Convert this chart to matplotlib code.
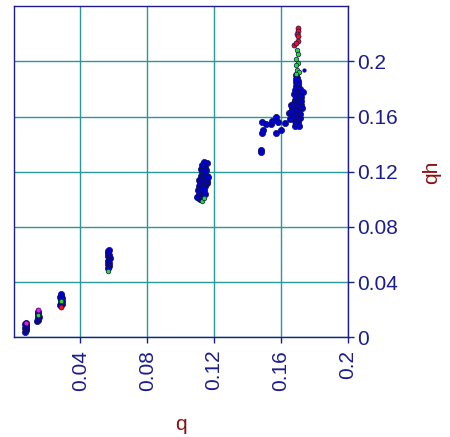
import matplotlib
matplotlib.use("Agg")
import matplotlib.pyplot as plt

plt.rcParams['font.family'] = ['Liberation Sans', 'DejaVu Sans']

# blue points (q, qh)
blue_q = [
    # cluster near 0.007
    0.0071, 0.0075, 0.0073, 0.0070, 0.0076, 0.0072, 0.0074, 0.0071, 0.0075,
    # cluster near 0.0145
    0.0143, 0.0148, 0.0145, 0.0150, 0.0144, 0.0147, 0.0146,
    # cluster near 0.0285
    0.0280, 0.0288, 0.0284, 0.0290, 0.0282, 0.0286, 0.0289, 0.0281, 0.0285, 0.0287,
    # cluster near 0.057
    0.0565, 0.0570, 0.0567, 0.0572, 0.0564, 0.0569, 0.0575, 0.0566, 0.0571, 0.0568, 0.0565, 0.0570,
    # cluster near 0.113
    0.1108, 0.1118, 0.1125, 0.1112, 0.1120, 0.1132, 0.1105, 0.1115, 0.1128, 0.1140,
    0.1110, 0.1122, 0.1135, 0.1148, 0.1118, 0.1130, 0.1142, 0.1155, 0.1112, 0.1125,
    0.1138, 0.1150, 0.1120, 0.1133, 0.1146, 0.1158, 0.1128, 0.1140, 0.1152, 0.1122,
    0.1135, 0.1148, 0.1130, 0.1142, 0.1155, 0.1138, 0.1160, 0.1162, 0.1145, 0.1100,
    # scattered between
    0.1480, 0.1480, 0.1485, 0.1495, 0.1490, 0.1510, 0.1540, 0.1545, 0.1570, 0.1580,
    0.1570, 0.1600, 0.1627, 0.1646, 0.1654,
    # cluster near 0.169
    0.1690, 0.1695, 0.1700, 0.1688, 0.1702, 0.1692, 0.1698, 0.1685, 0.1705, 0.1712,
    0.1695, 0.1680, 0.1700, 0.1715, 0.1690, 0.1708, 0.1682, 0.1720, 0.1695, 0.1710,
    0.1676, 0.1700, 0.1688, 0.1718, 0.1672, 0.1705, 0.1692, 0.1665, 0.1725, 0.1680,
    0.1710, 0.1698, 0.1670, 0.1715, 0.1688, 0.1702, 0.1676, 0.1712, 0.1694, 0.1685,
    0.1705, 0.1690, 0.1698, 0.1686, 0.1708, 0.1658, 0.1730, 0.1722, 0.1700, 0.1690,
    0.1660,
]
blue_qh = [
    0.0040, 0.0050, 0.0060, 0.0068, 0.0075, 0.0083, 0.0090, 0.0097, 0.0102,
    0.0120, 0.0128, 0.0136, 0.0145, 0.0152, 0.0175, 0.0185,
    0.0235, 0.0245, 0.0252, 0.0260, 0.0270, 0.0278, 0.0285, 0.0293, 0.0302, 0.0312,
    0.0505, 0.0518, 0.0530, 0.0542, 0.0555, 0.0566, 0.0575, 0.0588, 0.0600, 0.0612, 0.0624, 0.0634,
    0.101, 0.100, 0.103, 0.104, 0.106, 0.105, 0.107, 0.108, 0.108, 0.107,
    0.110, 0.110, 0.111, 0.110, 0.112, 0.113, 0.113, 0.112, 0.114, 0.115,
    0.116, 0.115, 0.117, 0.118, 0.118, 0.117, 0.120, 0.120, 0.121, 0.122,
    0.123, 0.123, 0.125, 0.125, 0.126, 0.127, 0.113, 0.116, 0.104, 0.102,
    0.136, 0.134, 0.148, 0.150, 0.1557, 0.1548, 0.1548, 0.157, 0.160, 0.156,
    0.148, 0.150, 0.1553, 0.1623, 0.158,
    0.190, 0.188, 0.186, 0.185, 0.183, 0.182, 0.180, 0.179, 0.178, 0.180,
    0.177, 0.176, 0.175, 0.176, 0.174, 0.173, 0.172, 0.174, 0.171, 0.170,
    0.170, 0.169, 0.168, 0.168, 0.167, 0.166, 0.165, 0.166, 0.166, 0.164,
    0.164, 0.163, 0.162, 0.162, 0.161, 0.160, 0.159, 0.159, 0.158, 0.157,
    0.156, 0.155, 0.154, 0.153, 0.153, 0.168, 0.178, 0.171, 0.184, 0.187,
    0.163,
]

green_q = [0.1695, 0.1705, 0.1692, 0.1702, 0.1688, 0.1698, 0.1706, 0.1690,
           0.1126, 0.1140, 0.0567, 0.0284, 0.0145]
green_qh = [0.208, 0.205, 0.202, 0.199, 0.197, 0.194, 0.192, 0.191,
            0.0985, 0.101, 0.0484, 0.0264, 0.0163]

red_q = [0.1700, 0.1702, 0.1698, 0.1705, 0.1700, 0.1680, 0.1688, 0.0284]
red_qh = [0.224, 0.222, 0.220, 0.218, 0.215, 0.212, 0.213, 0.0219]

magenta_q = [0.0073, 0.0145]
magenta_qh = [0.0105, 0.0198]

# lone small dot
small_q = [0.1738]
small_qh = [0.1936]

navy = '#1c1c8c'
edge = '#10105a'

fig = plt.figure(figsize=(4.5, 4.37), dpi=100)
ax = fig.add_axes([0.030, 0.228, 0.7427, 0.758])

ax.scatter(blue_q, blue_qh, s=20, c='#0000cc', edgecolors=edge, linewidths=0.5, zorder=3)
ax.scatter(small_q, small_qh, s=7, c='#0000cc', edgecolors=edge, linewidths=0.3, zorder=3)
ax.scatter(green_q, green_qh, s=11, c='#22dd22', edgecolors=edge, linewidths=0.5, zorder=4)
ax.scatter(red_q, red_qh, s=13, c='#ee1111', edgecolors=edge, linewidths=0.5, zorder=4)
ax.scatter(magenta_q, magenta_qh, s=13, c='#ee11ee', edgecolors=edge, linewidths=0.5, zorder=4)

ax.set_xlim(0, 0.2)
ax.set_ylim(0, 0.24)
ax.set_xticks([0.04, 0.08, 0.12, 0.16, 0.2])
ax.set_xticklabels(['0.04', '0.08', '0.12', '0.16', '0.2'], rotation=90)
ax.set_yticks([0, 0.04, 0.08, 0.12, 0.16, 0.2])
ax.set_yticklabels(['0', '0.04', '0.08', '0.12', '0.16', '0.2'])

ax.yaxis.tick_right()
ax.tick_params(axis='both', direction='out', length=4, width=1, color=navy,
               labelcolor=navy, labelsize=15, pad=3)
ax.tick_params(axis='x', pad=5)

ax.grid(True, color='#2a9898', linewidth=1, zorder=0)
ax.set_axisbelow(True)
for sp in ax.spines.values():
    sp.set_color(navy)
    sp.set_linewidth(1)

fig.text(181 / 450, 1 - 425 / 437, 'q', color='#8b1010', fontsize=15,
         ha='center', va='center')
fig.text(432 / 450, 1 - 172 / 437, 'qh', color='#8b1010', fontsize=15,
         ha='center', va='center', rotation=90)

fig.savefig('out.png', dpi=100)
